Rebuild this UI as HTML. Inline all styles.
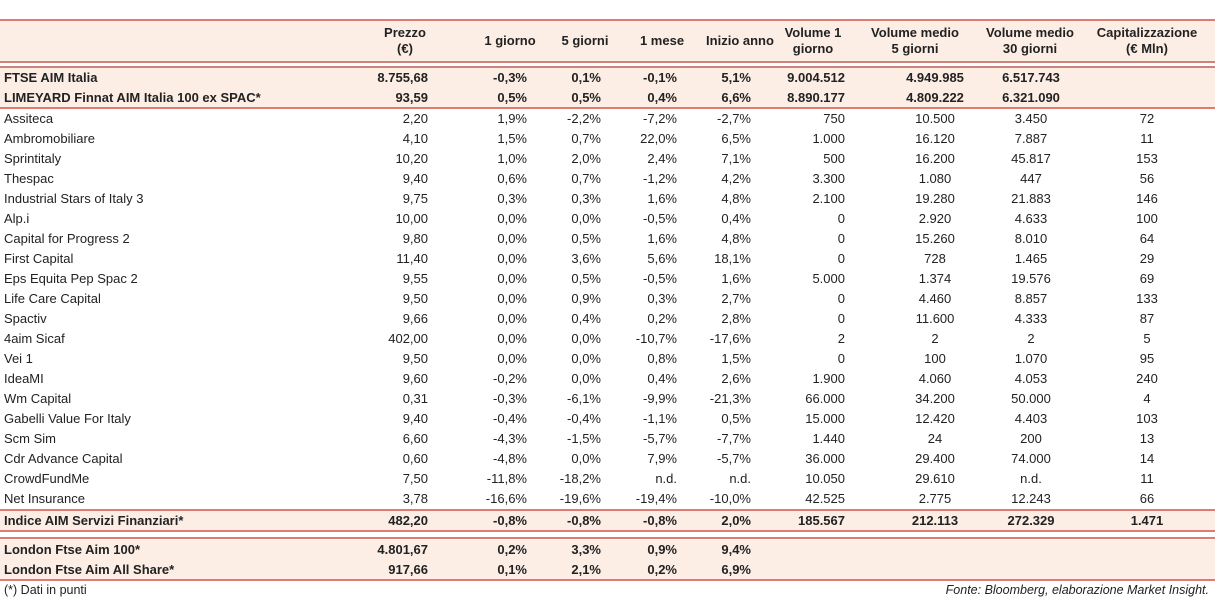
<!DOCTYPE html>
<html><head><meta charset="utf-8">
<style>
body{margin:0;width:1215px;height:601px;background:#fff;font-family:"Liberation Sans","DejaVu Sans",sans-serif;color:#222;position:relative;overflow:hidden}
.ln{position:absolute;left:0;width:1215px;height:2px;background:#e07b72}
.bg{position:absolute;left:0;width:1215px;background:#fdeee5}
.c{position:absolute;font-size:13px;line-height:20px;white-space:nowrap}
.b{font-weight:bold}
.h{position:absolute;font-size:13px;font-weight:bold;line-height:16px;text-align:center}
</style></head><body>
<div class="bg" style="top:21px;height:40px"></div>
<div class="bg" style="top:68px;height:39px"></div>
<div class="bg" style="top:511px;height:20px"></div>
<div class="bg" style="top:540px;height:39px"></div>
<div class="ln" style="top:19px"></div>
<div class="ln" style="top:61px;background:#c9857c"></div>
<div class="ln" style="top:66px;background:#c9857c"></div>
<div class="ln" style="top:107px"></div>
<div class="ln" style="top:509px"></div>
<div class="ln" style="top:530px"></div>
<div class="ln" style="top:537px"></div>
<div class="ln" style="top:579px"></div>

<div class="h" style="left:370px;width:70px;top:25px">Prezzo<br>(€)</div>
<div class="h" style="left:470px;width:80px;top:33px">1 giorno</div>
<div class="h" style="left:545px;width:80px;top:33px">5 giorni</div>
<div class="h" style="left:622px;width:80px;top:33px">1 mese</div>
<div class="h" style="left:690px;width:100px;top:33px">Inizio anno</div>
<div class="h" style="left:768px;width:90px;top:25px">Volume 1<br>giorno</div>
<div class="h" style="left:850px;width:130px;top:25px">Volume medio<br>5 giorni</div>
<div class="h" style="left:965px;width:130px;top:25px">Volume medio<br>30 giorni</div>
<div class="h" style="left:1082px;width:130px;top:25px">Capitalizzazione<br>(€ Mln)</div>

<div class="c" style="left:4px;top:580px;font-size:12.5px">(*) Dati in punti</div>
<div class="c" style="right:6px;top:580px;font-size:12.5px;font-style:italic">Fonte: Bloomberg, elaborazione Market Insight.</div>

<script>
const rows=[
["FTSE AIM Italia","8.755,68","-0,3%","0,1%","-0,1%","5,1%","9.004.512","4.949.985","6.517.743","",68,1],
["LIMEYARD Finnat AIM Italia 100 ex SPAC*","93,59","0,5%","0,5%","0,4%","6,6%","8.890.177","4.809.222","6.321.090","",88,1],
["Assiteca","2,20","1,9%","-2,2%","-7,2%","-2,7%","750","10.500","3.450","72",109,0],
["Ambromobiliare","4,10","1,5%","0,7%","22,0%","6,5%","1.000","16.120","7.887","11",129,0],
["Sprintitaly","10,20","1,0%","2,0%","2,4%","7,1%","500","16.200","45.817","153",149,0],
["Thespac","9,40","0,6%","0,7%","-1,2%","4,2%","3.300","1.080","447","56",169,0],
["Industrial Stars of Italy 3","9,75","0,3%","0,3%","1,6%","4,8%","2.100","19.280","21.883","146",189,0],
["Alp.i","10,00","0,0%","0,0%","-0,5%","0,4%","0","2.920","4.633","100",209,0],
["Capital for Progress 2","9,80","0,0%","0,5%","1,6%","4,8%","0","15.260","8.010","64",229,0],
["First Capital","11,40","0,0%","3,6%","5,6%","18,1%","0","728","1.465","29",249,0],
["Eps Equita Pep Spac 2","9,55","0,0%","0,5%","-0,5%","1,6%","5.000","1.374","19.576","69",269,0],
["Life Care Capital","9,50","0,0%","0,9%","0,3%","2,7%","0","4.460","8.857","133",289,0],
["Spactiv","9,66","0,0%","0,4%","0,2%","2,8%","0","11.600","4.333","87",309,0],
["4aim Sicaf","402,00","0,0%","0,0%","-10,7%","-17,6%","2","2","2","5",329,0],
["Vei 1","9,50","0,0%","0,0%","0,8%","1,5%","0","100","1.070","95",349,0],
["IdeaMI","9,60","-0,2%","0,0%","0,4%","2,6%","1.900","4.060","4.053","240",369,0],
["Wm Capital","0,31","-0,3%","-6,1%","-9,9%","-21,3%","66.000","34.200","50.000","4",389,0],
["Gabelli Value For Italy","9,40","-0,4%","-0,4%","-1,1%","0,5%","15.000","12.420","4.403","103",409,0],
["Scm Sim","6,60","-4,3%","-1,5%","-5,7%","-7,7%","1.440","24","200","13",429,0],
["Cdr Advance Capital","0,60","-4,8%","0,0%","7,9%","-5,7%","36.000","29.400","74.000","14",449,0],
["CrowdFundMe","7,50","-11,8%","-18,2%","n.d.","n.d.","10.050","29.610","n.d.","11",469,0],
["Net Insurance","3,78","-16,6%","-19,6%","-19,4%","-10,0%","42.525","2.775","12.243","66",489,0],
["Indice AIM Servizi Finanziari*","482,20","-0,8%","-0,8%","-0,8%","2,0%","185.567","212.113","272.329","1.471",511,1],
["London Ftse Aim 100*","4.801,67","0,2%","3,3%","0,9%","9,4%","","","","",540,1],
["London Ftse Aim All Share*","917,66","0,1%","2,1%","0,2%","6,9%","","","","",560,1]
];
const cols=[[428,'r'],[527,'r'],[601,'r'],[677,'r'],[751,'r'],[845,'r'],[935,'c'],[1031,'c'],[1147,'c']];
rows.forEach((r,i)=>{
  const top=r[10];
  const n=document.createElement('div');
  n.className='c'+(r[11]?' b':'');
  n.style.left='4px';n.style.top=top+'px';
  n.textContent=r[0];
  
  
  document.body.appendChild(n);
  cols.forEach((c,j)=>{
    const v=r[j+1]; if(!v) return;
    const d=document.createElement('div');
    d.className='c'+(r[11]?' b':'');
    d.style.top=top+'px';
    if(c[1]==='r'){d.style.right=(1215-c[0])+'px';}
    else{d.style.left=(c[0]-60)+'px';d.style.width='120px';d.style.textAlign='center';}
    d.textContent=v;
    
    
    document.body.appendChild(d);
  });
});
</script>
</body></html>
